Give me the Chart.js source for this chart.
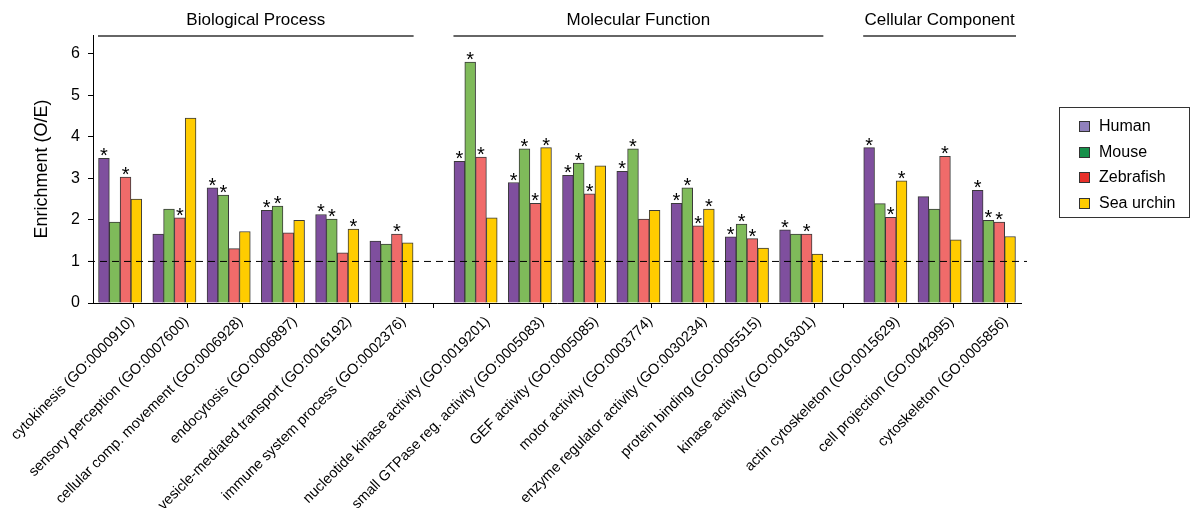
<!DOCTYPE html>
<html>
<head>
<meta charset="utf-8">
<script src="https://cdn.jsdelivr.net/npm/chart.js@4.4.1/dist/chart.umd.min.js"></script>
<style>
    body { margin: 0; background: #fff; font-family: "Liberation Sans", Arial, sans-serif; }
    #wrap { position: relative; width: 1192px; height: 508px; }
    #legend {
        position: absolute; left: 1059px; top: 107px; width: 131px; height: 111px;
        border: 1px solid #333; box-sizing: border-box; padding-top: 5px;
    }
    .item { height: 25.5px; line-height: 25.5px; font-size: 16px; color: #000; white-space: nowrap; }
    .swatch {
        display: inline-block; width: 9px; height: 9px; border: 1px solid #333;
        margin-left: 19px; margin-right: 9px; vertical-align: -1px;
    }
</style>
</head>
<body>
<div id="wrap">
    <canvas id="myChart"></canvas>
    <div id="legend"></div>
</div>
<script>

const categories = [
    'cytokinesis (GO:0000910)',
    'sensory perception (GO:0007600)',
    'cellular comp. movement (GO:0006928)',
    'endocytosis (GO:0006897)',
    'vesicle-mediated transport (GO:0016192)',
    'immune system process (GO:0002376)',
    'nucleotide kinase activity (GO:0019201)',
    'small GTPase reg. activity (GO:0005083)',
    'GEF activity (GO:0005085)',
    'motor activity (GO:0003774)',
    'enzyme regulator activity (GO:0030234)',
    'protein binding (GO:0005515)',
    'kinase activity (GO:0016301)',
    'actin cytoskeleton (GO:0015629)',
    'cell projection (GO:0042995)',
    'cytoskeleton (GO:0005856)'
];
const groupNames = ['Biological Process', 'Molecular Function', 'Cellular Component'];
const groupSizes = [6, 7, 3];

const seriesNames = ['Human', 'Mouse', 'Zebrafish', 'Sea urchin'];
const human     = [3.48, 1.66, 2.77, 2.23, 2.13, 1.49, 3.41, 2.90, 3.07, 3.17, 2.40, 1.59, 1.76, 3.74, 2.56, 2.71];
const mouse     = [1.95, 2.26, 2.60, 2.33, 2.02, 1.42, 5.80, 3.71, 3.37, 3.71, 2.77, 1.90, 1.66, 2.39, 2.26, 1.99];
const zebrafish = [3.03, 2.05, 1.31, 1.69, 1.21, 1.66, 3.51, 2.40, 2.63, 2.02, 1.86, 1.55, 1.66, 2.06, 3.53, 1.95];
const seaUrchin = [2.50, 4.45, 1.72, 1.99, 1.78, 1.45, 2.05, 3.74, 3.30, 2.23, 2.26, 1.32, 1.18, 2.94, 1.52, 1.60];

// significance (asterisk) flags
const humanSig     = [1, 0, 1, 1, 1, 0, 1, 1, 1, 1, 1, 1, 1, 1, 0, 1];
const mouseSig     = [0, 0, 1, 1, 1, 0, 1, 1, 1, 1, 1, 1, 0, 0, 0, 1];
const zebrafishSig = [1, 1, 0, 0, 0, 1, 1, 1, 1, 0, 1, 1, 1, 1, 1, 1];
const seaUrchinSig = [0, 0, 0, 0, 1, 0, 0, 1, 0, 0, 1, 0, 0, 1, 0, 0];

const yTicks = [0, 1, 2, 3, 4, 5, 6];
const baseline = 1;

const barColors    = ['#7f4f9e', '#7fba5a', '#f06b6a', '#ffcc00'];
const legendColors = ['#9080bc', '#16904a', '#e8302a', '#ffcc00'];
const FONT = '"Liberation Sans", Arial, sans-serif';
const GAP = 0.55;

// category centres on a linear axis, with narrow gaps between groups
const xPos = [];
const groupBounds = [];
let cursor = 0;
groupSizes.forEach((n, g) => {
    const start = cursor;
    for (let i = 0; i < n; i++) xPos.push(cursor + i);
    cursor += n;
    groupBounds.push([start - 0.5, cursor - 0.5]);
    if (g < groupSizes.length - 1) cursor += GAP;
});
const xMin = groupBounds[0][0];
const xMax = groupBounds[groupBounds.length - 1][1];

// tick list: boundaries (tick marks, no label) and centres (label, no mark)
const tickValues = [];
const tickLabels = [];
groupBounds.forEach((b, g) => {
    const first = groupSizes.slice(0, g).reduce((a, c) => a + c, 0);
    tickValues.push(b[0]); tickLabels.push('');
    for (let i = 0; i < groupSizes[g]; i++) {
        const k = first + i;
        tickValues.push(xPos[k]); tickLabels.push(categories[k]);
        tickValues.push(xPos[k] + 0.5); tickLabels.push('');
    }
});

const allValues = [human, mouse, zebrafish, seaUrchin];
const allSig = [humanSig, mouseSig, zebrafishSig, seaUrchinSig];

document.getElementById('legend').innerHTML = seriesNames.map((n, i) =>
    '<div class="item"><span class="swatch" style="background:' + legendColors[i] + '"></span>' + n + '</div>'
).join('');

const groupHeaders = {
    id: 'groupHeaders',
    afterDraw(chart) {
        const c = chart.ctx;
        const xs = chart.scales.x;
        const top = chart.chartArea.top;
        c.save();
        c.strokeStyle = '#333';
        c.lineWidth = 1.3;
        c.fillStyle = '#000';
        c.font = '17px ' + FONT;
        c.textAlign = 'center';
        c.textBaseline = 'middle';
        groupBounds.forEach((b, g) => {
            const x0 = xs.getPixelForValue(b[0]) + 5;
            const x1 = xs.getPixelForValue(b[1]) - 5;
            c.beginPath();
            c.moveTo(x0, top + 1);
            c.lineTo(x1, top + 1);
            c.stroke();
            c.fillText(groupNames[g], (x0 + x1) / 2, top - 15);
        });
        c.restore();
    }
};

const baselineAndStars = {
    id: 'baselineAndStars',
    afterDatasetsDraw(chart) {
        const c = chart.ctx;
        const area = chart.chartArea;
        const y = chart.scales.y.getPixelForValue(baseline);
        c.save();
        c.strokeStyle = '#000';
        c.lineWidth = 1;
        c.setLineDash([7, 5]);
        c.beginPath();
        c.moveTo(area.left - 5, y);
        c.lineTo(area.right + 6, y);
        c.stroke();
        c.setLineDash([]);

        c.fillStyle = '#000';
        c.font = '20px ' + FONT;
        c.textAlign = 'center';
        c.textBaseline = 'alphabetic';
        chart.data.datasets.forEach((ds, d) => {
            const meta = chart.getDatasetMeta(d);
            meta.data.forEach((el, i) => {
                if (allSig[d][i]) c.fillText('*', el.x, el.y + 4);
            });
        });
        c.restore();
    }
};

Chart.defaults.font.family = FONT;
Chart.defaults.color = '#000';

var ctx = document.getElementById('myChart').getContext('2d');

var myChart = new Chart(ctx, {
    type: 'bar',
    data: {
        datasets: allValues.map((vals, d) => ({
            label: seriesNames[d],
            data: vals.map((v, i) => ({ x: xPos[i], y: v })),
            backgroundColor: barColors[d],
            borderColor: '#3a3a3a',
            borderWidth: 1,
            borderSkipped: 'bottom',
            barThickness: 10.8
        }))
    },
    options: {
        responsive: true,
        maintainAspectRatio: false,
        animation: false,
        layout: { padding: { top: 35, right: 171, left: 0, bottom: 0 } },
        plugins: { legend: { display: false }, tooltip: { enabled: false } },
        scales: {
            x: {
                type: 'linear',
                min: xMin,
                max: xMax,
                offset: false,
                afterBuildTicks: (s) => { s.ticks = tickValues.map(v => ({ value: v })); },
                afterFit: (s) => { s.height = 205; },
                ticks: {
                    autoSkip: false,
                    minRotation: 45,
                    maxRotation: 45,
                    padding: 5,
                    labelOffset: 12,
                    color: '#000',
                    font: { size: 14.5 },
                    callback: (v, i) => tickLabels[i]
                },
                grid: {
                    drawOnChartArea: false,
                    drawTicks: true,
                    tickLength: 5,
                    color: (c) => tickLabels[c.index] === '' ? '#000' : 'rgba(0,0,0,0)'
                },
                border: { color: '#000', width: 1 }
            },
            y: {
                min: 0,
                max: 6.45,
                afterBuildTicks: (s) => { s.ticks = yTicks.map(v => ({ value: v })); },
                afterFit: (s) => { s.width = 93; },
                ticks: { padding: 8, color: '#000', font: { size: 16 } },
                grid: { drawOnChartArea: false, drawTicks: true, tickLength: 5, color: '#000' },
                border: { color: '#000', width: 1 },
                title: {
                    display: true,
                    text: 'Enrichment (O/E)',
                    color: '#000',
                    font: { size: 18 },
                    padding: { top: 31, bottom: 0 }
                }
            }
        }
    },
    plugins: [groupHeaders, baselineAndStars]
});
</script>
</body>
</html>
